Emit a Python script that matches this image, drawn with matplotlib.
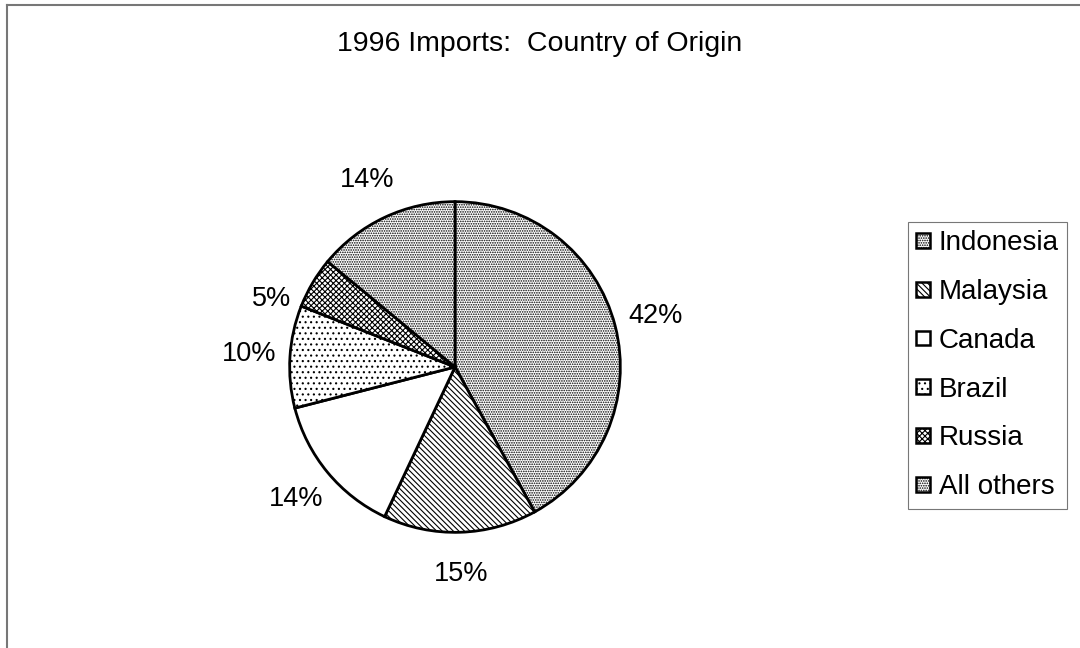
import matplotlib.pyplot as plt
from matplotlib.lines import Line2D
from matplotlib.patches import Patch

countries = ["Indonesia", "Malaysia", "Canada", "Brazil", "Russia", "All others"]
shares = [42, 15, 14, 10, 5, 14]
hatches = [".......", "\\\\\\\\\\\\", "", "...", "xxxxxx", "......."]

plt.rcParams["font.family"] = ["Liberation Sans", "DejaVu Sans"]
plt.rcParams["hatch.linewidth"] = 0.8

fig = plt.figure(figsize=(10.8, 6.48), dpi=100)
ax = fig.add_axes([288 / 1080, 1 - 534 / 648, 334 / 1080, 334 / 648])

wedges, texts = ax.pie(
    shares, startangle=90, counterclock=False,
    labels=[f"{s}%" for s in shares], labeldistance=1.25,
    wedgeprops=dict(facecolor="white", edgecolor="black", linewidth=2),
    textprops=dict(fontsize=19.5), radius=1.0,
)
for w, h in zip(wedges, hatches):
    w.set_hatch(h)
for t in texts:
    t.set_ha("center")
    t.set_va("center")
# the small Russia label sits a little lower, clear of its neighbour
texts[4].set_position((-1.11, 0.41))
ax.set_xlim(-1.01, 1.01)
ax.set_ylim(-1.01, 1.01)
ax.set_aspect("equal")

fig.text(0.5, 1 - 44 / 648, "1996 Imports:  Country of Origin",
         ha="center", va="center", fontsize=20.5)

handles = [Patch(facecolor="white", edgecolor="black", hatch=h, linewidth=1.8)
           for h in hatches]
leg = fig.legend(handles, countries, loc="upper left",
                 bbox_to_anchor=(908 / 1080, 1 - 222 / 648),
                 fontsize=20, frameon=True, fancybox=False,
                 handlelength=0.5, handleheight=0.45, handletextpad=0.3,
                 labelspacing=0.82, borderpad=0.3, borderaxespad=0)
leg.get_frame().set_edgecolor("#555555")
leg.get_frame().set_linewidth(0.8)

# outer frame, only its top and left edges fall inside the image
fig.add_artist(Line2D([7 / 1080, 1], [1 - 5 / 648] * 2, color="#777777", lw=1.5))
fig.add_artist(Line2D([7 / 1080] * 2, [0, 1 - 5 / 648], color="#777777", lw=1.5))

fig.savefig("out.png", dpi=100)
